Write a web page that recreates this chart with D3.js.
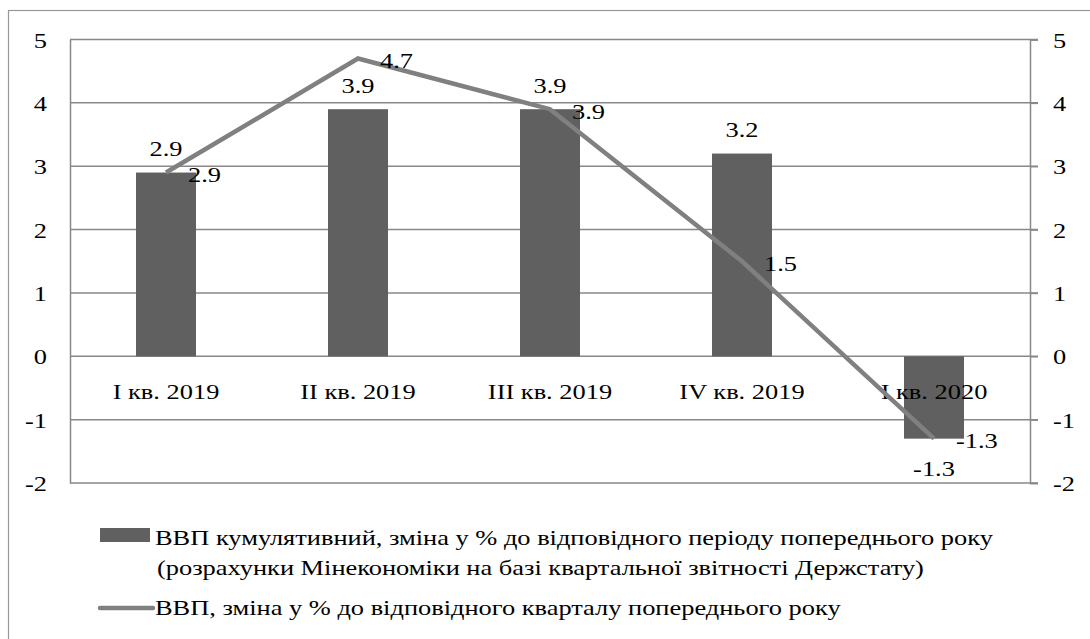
<!DOCTYPE html>
<html><head><meta charset="utf-8">
<script src="https://cdn.jsdelivr.net/npm/d3@7"></script>
<style>
body{margin:0;background:#fff}
text{font-family:"Liberation Serif","Times New Roman","DejaVu Serif",serif;fill:#000}
</style></head>
<body><svg id="c" width="1090" height="639"></svg>
<script>
const categories = ["I кв. 2019","II кв. 2019","III кв. 2019","IV кв. 2019","I кв. 2020"];
const cumulative = [2.9, 3.9, 3.9, 3.2, -1.3];
const quarterly = [2.9, 4.7, 3.9, 1.5, -1.3];
const yTicks = [-2,-1,0,1,2,3,4,5];
const legendBar = ["ВВП кумулятивний, зміна у % до відповідного періоду попереднього року",
                   "(розрахунки Мінекономіки на базі квартальної звітності Держстату)"];
const legendLine = "ВВП, зміна у % до відповідного кварталу попереднього року";

const svg = d3.select("#c");
const L = 70, R = 1030, T = 39.5, B = 483;
const FS = 22, SX = 1.2;
const FF = '"Liberation Serif","Times New Roman","DejaVu Serif",serif';
const gridCol = "#888", barCol = "#606060", lineCol = "#808080";
const fmt = d => d.toFixed(1);

svg.append("rect").attr("x",8.5).attr("y",10.5).attr("width",1100).attr("height",700)
  .attr("fill","none").attr("stroke","#999").attr("stroke-width",1.2);

const x = d3.scaleBand().domain(categories).range([L,R]).padding(0);
const y = d3.scaleLinear().domain([-2,5]).range([B,T]);

// grid
svg.append("g").selectAll("line").data(yTicks).join("line")
  .attr("x1",L).attr("x2",R+8).attr("y1",d=>y(d)).attr("y2",d=>y(d))
  .attr("stroke",gridCol).attr("stroke-width",1.5);

// left axis
const gl = svg.append("g").attr("transform",`translate(${L},0)`)
  .call(d3.axisLeft(y).tickValues(yTicks).tickSize(0).tickPadding(23).tickFormat(d=>String(d)));
gl.attr("font-family",FF).attr("font-size",FS);
gl.select(".domain").attr("stroke",gridCol).attr("stroke-width",1.5);
gl.selectAll("text").attr("dy","0.35em");

// right axis
const gr = svg.append("g").attr("transform",`translate(${R},0)`)
  .call(d3.axisRight(y).tickValues(yTicks).tickSize(8).tickPadding(15).tickFormat(d=>String(d)));
gr.attr("font-family",FF).attr("font-size",FS);
gr.select(".domain").attr("stroke",gridCol).attr("stroke-width",1.5);
gr.selectAll(".tick line").attr("stroke",gridCol).attr("stroke-width",1.5);
gr.selectAll("text").attr("dy","0.35em");

// bars
const bw = x.bandwidth()*0.3125;
svg.append("g").selectAll("rect").data(cumulative).join("rect")
  .attr("x",(d,i)=>x(categories[i])+x.bandwidth()/2-bw/2)
  .attr("y",d=>y(Math.max(0,d)))
  .attr("width",bw)
  .attr("height",d=>Math.abs(y(d)-y(0)))
  .attr("fill",barCol);

// category labels
svg.append("g").selectAll("text").data(categories).join("text")
  .attr("x",d=>x(d)+x.bandwidth()/2).attr("y",399)
  .attr("text-anchor","middle").text(d=>d);

// line
const cx = i => x(categories[i])+x.bandwidth()/2;
svg.append("path").datum(quarterly)
  .attr("d",d3.line().x((d,i)=>cx(i)).y(d=>y(d)))
  .attr("fill","none").attr("stroke",lineCol).attr("stroke-width",4.5);

// bar labels
svg.append("g").selectAll("text").data(cumulative).join("text")
  .attr("x",(d,i)=>cx(i))
  .attr("y",d=> d>=0 ? y(d)-24 : y(d)+30)
  .attr("dy","0.35em").attr("text-anchor","middle")
  .text(fmt);

// line labels
svg.append("g").selectAll("text").data(quarterly).join("text")
  .attr("x",(d,i)=>cx(i)+22)
  .attr("y",d=>y(d)+2)
  .attr("dy","0.35em").attr("text-anchor","start")
  .text(fmt);

// legend
svg.append("rect").attr("x",100).attr("y",528).attr("width",50).attr("height",14).attr("fill",barCol);
svg.append("text").attr("x",155).attr("y",545).text(legendBar[0]);
svg.append("text").attr("x",157).attr("y",575).text(legendBar[1]);
svg.append("line").attr("x1",100).attr("x2",153).attr("y1",608).attr("y2",608)
  .attr("stroke",lineCol).attr("stroke-width",4.5).attr("stroke-linecap","round");
svg.append("text").attr("x",155).attr("y",615).text(legendLine);

// font + horizontal stretch of all text
svg.selectAll("text").each(function(){
  const t = d3.select(this);
  t.attr("font-family",FF).style("font-family",FF).attr("font-size",FS).style("font-size",FS+"px");
  const w = this.getComputedTextLength();
  t.attr("textLength",w*SX).attr("lengthAdjust","spacingAndGlyphs");
});
</script></body></html>
